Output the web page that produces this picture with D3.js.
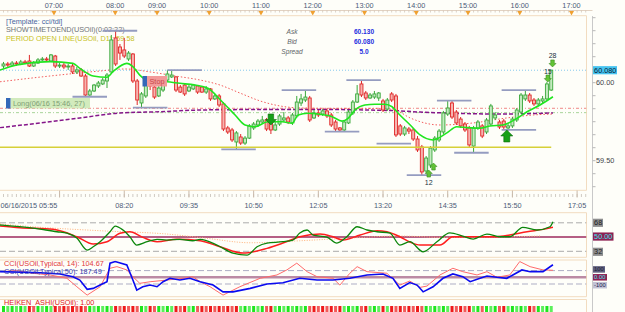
<!DOCTYPE html>
<html>
<head>
<meta charset="utf-8">
<script src="https://cdn.jsdelivr.net/npm/d3@7"></script>
<style>
  body { margin: 0; background: #fefef9; }
  svg { display: block; font-family: "Liberation Sans", Arial, sans-serif; }
</style>
</head>
<body>
<svg id="chart"></svg>
<script>
// USOil M5, 06/16/2015
const barOpen = [
  60.107,60.120,60.113,60.126,60.120,60.133,60.139,60.107,60.126,60.146,
  60.152,60.139,60.171,60.107,60.113,60.101,60.107,60.069,60.082,60.043,
  59.921,59.947,59.979,59.992,60.011,60.069,60.287,60.229,60.210,60.152,
  60.184,60.011,59.870,59.915,60.024,59.972,59.915,59.953,60.017,60.037,
  60.037,59.972,59.985,59.947,59.960,59.979,59.972,59.940,59.960,59.896,
  59.915,59.864,59.710,59.697,59.620,59.652,59.613,59.645,59.710,59.729,
  59.748,59.761,59.748,59.697,59.735,59.761,59.774,59.742,59.787,59.870,
  59.889,59.902,59.774,59.806,59.799,59.819,59.793,59.748,59.710,59.697,
  59.742,59.806,59.876,59.992,59.934,59.902,59.908,59.902,59.883,59.831,
  59.928,59.915,59.723,59.671,59.703,59.697,59.639,59.588,59.434,59.472,
  59.569,59.633,59.684,59.799,59.870,59.812,59.767,59.735,59.710,59.594,
  59.710,59.723,59.684,59.735,59.774,59.748,59.754,59.710,59.723,59.761,
  59.812,59.896,59.921,59.889,59.864,59.883,59.896,59.953];
const barClose = [
  60.120,60.113,60.126,60.120,60.133,60.126,60.107,60.126,60.146,60.152,
  60.146,60.178,60.107,60.113,60.101,60.107,60.069,60.082,60.043,59.921,
  59.947,59.985,59.998,60.017,60.049,60.274,60.120,60.190,60.171,60.190,
  60.011,59.889,59.928,60.030,59.979,59.908,59.966,60.017,60.056,60.049,
  59.953,59.940,59.928,59.972,59.985,59.940,59.940,59.960,59.896,59.915,
  59.857,59.703,59.684,59.633,59.678,59.613,59.645,59.723,59.735,59.754,
  59.761,59.703,59.697,59.729,59.787,59.774,59.748,59.793,59.876,59.896,
  59.908,59.761,59.806,59.793,59.819,59.787,59.729,59.703,59.697,59.748,
  59.812,59.876,59.928,59.921,59.902,59.921,59.928,59.934,59.825,59.889,
  59.889,59.665,59.671,59.710,59.690,59.639,59.569,59.428,59.517,59.581,
  59.645,59.690,59.806,59.838,59.780,59.742,59.723,59.697,59.601,59.710,
  59.748,59.658,59.761,59.851,59.793,59.716,59.716,59.723,59.767,59.825,
  59.921,59.921,59.883,59.864,59.889,59.896,59.992,60.080];
const barHigh = [
  60.133,60.133,60.139,60.139,60.146,60.146,60.178,60.139,60.158,60.165,
  60.165,60.184,60.178,60.126,60.126,60.120,60.120,60.101,60.094,60.056,
  59.960,59.992,60.011,60.030,60.062,60.306,60.338,60.248,60.287,60.203,
  60.190,60.024,59.940,60.043,60.037,59.985,59.979,60.030,60.082,60.075,
  60.043,59.985,59.998,59.985,59.992,59.985,59.979,59.979,59.966,59.928,
  59.928,59.876,59.723,59.710,59.690,59.671,59.658,59.735,59.748,59.767,
  59.787,59.774,59.761,59.748,59.799,59.812,59.787,59.806,59.915,59.928,
  59.953,59.915,59.825,59.825,59.831,59.831,59.806,59.761,59.716,59.761,
  59.825,59.889,59.985,60.017,59.947,59.934,59.947,59.940,59.896,59.902,
  59.940,59.928,59.735,59.723,59.716,59.710,59.658,59.601,59.530,59.594,
  59.658,59.703,59.819,59.883,59.889,59.825,59.780,59.748,59.723,59.723,
  59.761,59.735,59.774,59.864,59.812,59.761,59.767,59.735,59.780,59.838,
  59.934,59.953,59.934,59.902,59.902,59.915,60.004,60.082];
const barLow = [
  60.094,60.101,60.107,60.107,60.113,60.120,60.101,60.101,60.120,60.139,
  60.133,60.133,60.094,60.094,60.088,60.082,60.056,60.056,60.037,59.908,
  59.915,59.940,59.966,59.985,59.966,60.062,60.107,60.146,60.158,60.139,
  59.998,59.857,59.844,59.902,59.953,59.896,59.908,59.940,60.011,60.030,
  59.940,59.934,59.915,59.940,59.953,59.928,59.934,59.928,59.883,59.889,
  59.844,59.690,59.671,59.620,59.569,59.601,59.601,59.639,59.697,59.716,
  59.735,59.690,59.671,59.690,59.723,59.748,59.735,59.729,59.774,59.851,
  59.876,59.748,59.767,59.780,59.787,59.774,59.716,59.690,59.684,59.690,
  59.735,59.793,59.870,59.908,59.889,59.896,59.896,59.883,59.812,59.819,
  59.876,59.652,59.658,59.658,59.671,59.626,59.556,59.408,59.421,59.453,
  59.556,59.620,59.671,59.787,59.767,59.729,59.710,59.684,59.588,59.549,
  59.697,59.645,59.671,59.723,59.761,59.703,59.697,59.690,59.710,59.748,
  59.799,59.883,59.870,59.851,59.851,59.870,59.889,59.947];

// moving averages (bar index, price)
const maFastIdx = [-0.8,3.1,10.8,16.1,17.7,20.8,24.0,25.4,28.6,30.0,31.6,33.3,37.9,40.9,44.4,47.4,50.7,53.7,56.0,58.3,61.3,64.6,66.9,68.3,70.6,74.5,76.2,78.5,79.9,81.5,83.8,86.1,88.4,90.1,91.9,94.3,96.6,99.6,102.8,105.1,107.5,110.5,112.8,115.8,119.1,121.4,124.4,127.4];
const maFastVal = [60.081,60.113,60.135,60.124,60.092,60.043,60.035,60.071,60.124,60.103,60.049,60.017,60.006,59.996,59.985,59.964,59.878,59.793,59.729,59.718,59.750,59.750,59.740,59.793,59.804,59.793,59.782,59.754,59.772,59.825,59.857,59.862,59.862,59.846,59.793,59.729,59.665,59.633,59.678,59.718,59.712,59.708,59.722,59.729,59.772,59.814,59.857,59.910];
const maSlowIdx = [-0.8,10.8,22.4,28.2,34.0,39.8,45.6,50.2,54.8,59.5,64.1,68.7,78.0,87.3,90.8,94.3,101.2,108.9,116.7,122.8,127.4];
const maSlowVal = [60.006,60.043,60.075,60.088,60.069,60.043,60.017,59.985,59.934,59.883,59.851,59.838,59.835,59.835,59.825,59.774,59.729,59.742,59.774,59.793,59.799];
const maLongIdx = [-0.8,8.5,17.7,27.0,36.3,45.6,57.2,68.7,89.6,96.6,105.8,115.1,127.4];
const maLongVal = [59.712,59.742,59.774,59.806,59.814,59.825,59.828,59.829,59.822,59.812,59.803,59.799,59.806];

const bidPrice = 60.080, pivotPink = 59.836, pivotGreen = 59.808, dayOpen = 59.586;

// fractal level segments (start bar, price), 8 bars long
const levelStart = [23, 16, 30, 38, 64.5, 50.5, 74.5, 79.5, 86.5, 93.5, 100.5, 104.5, 115.5, 115.5];
const levelPrice = [60.333, 59.910, 59.840, 60.081, 59.953, 59.573, 59.686, 60.017, 59.609, 59.408, 59.885, 59.551, 59.953, 59.697];

// signal arrows
const sigIdx = [62, 116.7, 98.6, 99.7, 126.2, 127.3];
const sigPrice = [59.729, 59.697, 59.440, 59.485, 60.004, 60.101];
const sigDir = ["down", "up", "up", "up", "down", "down"];
const sigSize = [11, 12, 7, 7, 7, 7];
const sigLabel = ["", "", "12", "", "15", "28"];

// TDI
const tdiPriceIdx = [-0.8,2.2,6.8,12.4,14.7,17.0,19.4,20.8,22.4,24.7,25.9,27.7,29.3,30.9,33.3,35.6,37.9,40.9,43.9,45.6,49.5,53.2,56.5,58.8,61.1,64.8,67.1,68.7,70.4,71.8,75.0,77.3,79.6,82.0,84.3,86.6,89.6,91.9,94.2,97.3,100.5,103.5,106.5,108.9,112.1,115.1,117.4,120.4,123.7,126.7,127.4];
const tdiPriceVal = [65.2,63.9,61.4,56.7,55.1,48.7,33.5,37.7,44.1,56.7,63.9,58.9,50.4,39.9,44.1,47.1,46.2,47.1,45.3,47.1,39.9,29.7,27.2,37.7,42.4,44.1,46.2,55.1,58.9,52.5,50.0,42.4,50.4,63.0,58.9,56.7,55.1,39.9,44.1,31.4,44.1,55.4,51.3,47.5,53.8,50.4,50.4,62.3,58.9,63.0,69.4];
const tdiSignalIdx = [-0.8,3.8,11.5,17.0,20.8,24.0,27.0,29.3,32.3,35.6,40.2,45.6,50.2,55.5,61.1,64.8,68.7,73.4,76.4,78.7,82.7,86.6,88.9,91.9,94.2,96.6,101.2,104.2,109.8,114.4,117.4,121.4,125.1,127.4];
const tdiSignalVal = [63.9,61.8,59.7,50.4,41.1,44.1,54.7,56.7,49.6,44.1,47.1,45.3,37.7,29.7,35.7,42.4,50.4,53.8,50.4,46.2,52.5,58.0,56.7,50.4,43.7,39.9,39.9,50.4,50.4,50.4,52.5,56.7,59.7,62.3];
const tdiBaseIdx = [-0.8,6.8,22.4,37.9,46.7,57.2,68.7,80.3,91.9,101.9,117.4,124.4];
const tdiBaseVal = [66.5,63.0,58.0,53.8,48.7,42.8,45.3,48.7,51.3,49.6,50.4,51.3];

// CCI
const cciFastIdx = [-0.8,3.1,6.8,10.8,14.7,17.0,19.4,22.4,24.7,26.3,28.6,30.0,31.6,34.0,37.9,41.6,43.9,45.6,47.9,50.9,54.8,59.5,63.4,65.7,68.0,70.4,72.7,76.4,78.0,80.3,82.0,84.3,88.9,91.9,94.2,96.6,98.2,101.2,104.2,106.5,109.8,112.1,114.4,117.4,119.7,122.1,125.1,127.4];
const cciFastVal = [84,99,60,35,-15,-141,-266,-141,135,159,110,9,-90,-66,-41,-15,9,-66,-141,-266,-141,-15,35,110,211,84,9,-15,-116,60,159,84,60,-116,-56,-150,-131,35,135,84,35,84,0,35,235,159,110,104.67];
const cciSlowIdx = [-0.8,8.5,13.1,16.1,17.7,19.4,20.8,22.4,24.0,24.7,25.9,28.6,30.0,30.9,32.3,34.0,35.6,37.0,38.6,40.9,43.2,45.6,48.6,50.9,53.2,57.2,61.1,64.8,68.7,72.7,76.4,80.3,84.3,88.0,90.3,91.9,94.2,95.9,97.3,99.6,101.9,104.2,106.5,108.2,110.5,112.1,114.4,116.7,118.1,120.2,122.1,125.1,127.4];
const cciSlowVal = [84,69,50,9,-41,-180,-165,-116,-66,211,235,185,-41,-191,-141,-116,-141,-66,-15,-41,-15,-66,-116,-217,-217,-165,-101,-81,-15,-41,-41,-15,35,50,-15,-165,-78,-116,-217,-141,-15,50,9,-66,-15,20,0,-15,35,110,84,84,187.49];

// Heiken Ashi colour per bar
const haColor = ("gggggg" + "rr" + "gggg" + "rrrrrrrr" + "gggggg" + "rrrrrr" + "gg" + "rr" + "gggg" + "rrr" + "gg" +
  "rrrrrrrrrr" + "gggggg" + "rr" + "gggggggg" + "rrrrrrrr" + "gggg" + "rr" + "ggg" + "r" + "g" + "rrrrrrrr" +
  "gggggg" + "rrrrr" + "gg" + "r" + "ggg" + "rr" + "ggggg" + "rr" + "gggg").split("");

// axes
const hourLabels = ["07:00","08:00","09:00","10:00","11:00","12:00","13:00","14:00","15:00","16:00","17:00"];
const hourIdx = [11.7, 25.9, 35.6, 47.7, 59.7, 71.7, 83.7, 95.7, 107.7, 119.7, 131.7];
const timeLabels = ["06/16/2015 05:55","08:20","09:35","10:50","12:05","13:20","14:35","15:50","17:05"];
const timeIdx = [13, 28, 43, 58, 73, 88, 103, 118, 133];

// ---------------------------------------------------------------
const width = 625, height = 312;
const plotRight = 586.5, axisX = 592.5;
const tan = "#f2dcc0", axisText = "#4d5b78";

const svg = d3.select("#chart").attr("width", width).attr("height", height);

const x = d3.scaleLinear().domain([0, 133]).range([3.5, 577.1]);
const y = d3.scaleLinear().domain([59.5, 60.0]).range([160.7, 82.7]);
const yT = d3.scaleLinear().domain([32, 68]).range([251.3, 222.8]);
const yC = d3.scaleLinear().domain([-100, 100]).range([284, 270.6]);

const zip = (a, b) => a.map((v, i) => [v, b[i]]);

const defs = svg.append("defs");
defs.append("clipPath").attr("id", "clipMain").append("rect").attr("x", 0).attr("y", 16).attr("width", plotRight).attr("height", 174);
defs.append("clipPath").attr("id", "clipTdi").append("rect").attr("x", 0).attr("y", 213).attr("width", plotRight).attr("height", 44);
defs.append("clipPath").attr("id", "clipCci").append("rect").attr("x", 0).attr("y", 260.5).attr("width", plotRight).attr("height", 36);

// ---- top time ruler ----
const topAxis = svg.append("g");
topAxis.append("line").attr("x1", 0).attr("x2", axisX).attr("y1", 10.5).attr("y2", 10.5).attr("stroke", "#e2d2c2");
topAxis.selectAll(".tk").data(d3.range(-1, 136)).enter().append("line")
  .attr("x1", d => x(d)).attr("x2", d => x(d)).attr("y1", 10.5).attr("y2", 12.5)
  .attr("stroke", "#cdbfb0").attr("stroke-width", 0.7);
topAxis.selectAll(".hl").data(hourLabels).enter().append("text")
  .attr("x", (d, i) => x(hourIdx[i])).attr("y", 7.5).attr("text-anchor", "middle")
  .attr("font-size", 7.3).attr("fill", axisText).text(d => d);
topAxis.selectAll(".tri").data(hourIdx).enter().append("path")
  .attr("d", d => `M${x(d) - 2.5},11 L${x(d) + 2.5},11 L${x(d)},15.5 Z`)
  .attr("fill", "#f0a030");

// ---- panel frames ----
const frames = [[15.7, 190.3], [212.7, 257.3], [260, 296.7], [299.5, 320]];
frames.forEach(f => {
  svg.append("line").attr("x1", 0).attr("x2", plotRight).attr("y1", f[0]).attr("y2", f[0]).attr("stroke", tan);
  svg.append("line").attr("x1", 0).attr("x2", plotRight).attr("y1", f[1]).attr("y2", f[1]).attr("stroke", tan);
  svg.append("line").attr("x1", plotRight).attr("x2", plotRight).attr("y1", f[0]).attr("y2", f[1]).attr("stroke", tan);
});
svg.append("line").attr("x1", axisX).attr("x2", axisX).attr("y1", 16).attr("y2", height).attr("stroke", "#c9c9c9");

// ---- main panel ----
// header texts
const hdr = svg.append("g").attr("font-size", 7.3);
hdr.append("text").attr("x", 6).attr("y", 23.5).attr("fill", "#4866a0").text("[Template: cci/tdi]");
hdr.append("text").attr("x", 6).attr("y", 32).attr("fill", "#707478").text("SHOWTIMETOEND(USOil)(0:02:22)");
hdr.append("text").attr("x", 6).attr("y", 40.5).attr("fill", "#c8c21e").text("PERIOD OPEN LINE(USOil, D1): 59.58");

const quote = svg.append("g").attr("font-size", 6.6);
[["Ask", "60.130", 33.5], ["Bid", "60.080", 43.5], ["Spread", "5.0", 53.5]].forEach(r => {
  quote.append("text").attr("x", 292).attr("y", r[2]).attr("text-anchor", "middle")
    .attr("font-style", "italic").attr("fill", "#606468").text(r[0]);
  quote.append("text").attr("x", 364).attr("y", r[2]).attr("text-anchor", "middle")
    .attr("font-weight", "bold").attr("fill", "#1f2ee0").text(r[1]);
});

const main = svg.append("g").attr("clip-path", "url(#clipMain)");

// horizontal reference lines
main.append("line").attr("x1", 0).attr("x2", plotRight).attr("y1", y(bidPrice)).attr("y2", y(bidPrice))
  .attr("stroke", "#86c8ec").attr("stroke-dasharray", "1,2");
main.append("line").attr("x1", 0).attr("x2", plotRight).attr("y1", y(pivotPink)).attr("y2", y(pivotPink))
  .attr("stroke", "#f08888").attr("stroke-dasharray", "3,2,1,2");
main.append("line").attr("x1", 0).attr("x2", plotRight).attr("y1", y(pivotGreen)).attr("y2", y(pivotGreen))
  .attr("stroke", "#a8d49a").attr("stroke-dasharray", "3,2,1,2");

const line = d3.line().x(d => x(d[0])).y(d => y(d[1])).curve(d3.curveMonotoneX);
main.append("path").datum(zip(maLongIdx, maLongVal)).attr("d", line)
  .attr("fill", "none").attr("stroke", "#85168a").attr("stroke-width", 1.5).attr("stroke-dasharray", "4,2");
main.append("path").datum(zip(maSlowIdx, maSlowVal)).attr("d", line)
  .attr("fill", "none").attr("stroke", "#f25c5c").attr("stroke-width", 1).attr("stroke-dasharray", "1.5,2");

// candles
const bars = barOpen.map((o, i) => ({ i, o, c: barClose[i], h: barHigh[i], l: barLow[i] }));
const candle = main.selectAll(".candle").data(bars).enter().append("g").attr("class", "candle");
candle.append("line")
  .attr("x1", d => x(d.i)).attr("x2", d => x(d.i))
  .attr("y1", d => y(d.h)).attr("y2", d => y(d.l))
  .attr("stroke", d => d.c >= d.o ? "#3aa83a" : "#e02828");
candle.append("rect")
  .attr("x", d => x(d.i) - 1.5).attr("width", 3)
  .attr("y", d => y(Math.max(d.o, d.c)))
  .attr("height", d => Math.max(1, Math.abs(y(d.o) - y(d.c))))
  .attr("fill", d => d.c >= d.o ? "#c4eac0" : "#f6b4b0")
  .attr("stroke", d => d.c >= d.o ? "#3aa83a" : "#e02828").attr("stroke-width", 0.9);

// day open line
main.append("line").attr("x1", 0).attr("x2", x(barOpen.length - 1)).attr("y1", y(dayOpen)).attr("y2", y(dayOpen))
  .attr("stroke", "#d6d038").attr("stroke-width", 1.4);

// fractal levels
main.selectAll(".lvl").data(levelStart).enter().append("line")
  .attr("x1", d => x(d)).attr("x2", d => x(d + 8))
  .attr("y1", (d, i) => y(levelPrice[i])).attr("y2", (d, i) => y(levelPrice[i]))
  .attr("stroke", "#959cc0").attr("stroke-width", 1.8);

// fast MA
main.append("path").datum(zip(maFastIdx, maFastVal)).attr("d", line)
  .attr("fill", "none").attr("stroke", "#1fe61f").attr("stroke-width", 1.6);

// Long / Stop tags
const tag = svg.append("g").attr("font-size", 7.3);
tag.append("rect").attr("x", 10.5).attr("y", 98).attr("width", 79.5).attr("height", 10.5).attr("fill", "#cde9b6").attr("opacity", 0.9);
tag.append("rect").attr("x", 6).attr("y", 98).attr("width", 4.5).attr("height", 10.5).attr("fill", "#3468b8");
tag.append("text").attr("x", 13).attr("y", 106.2).attr("fill", "#7f9f74").text("Long(06/16 15:46, 27)");
tag.append("rect").attr("x", 147).attr("y", 76).attr("width", 20).attr("height", 10.5).attr("fill", "#f29a9a");
tag.append("rect").attr("x", 142.5).attr("y", 76).attr("width", 4.5).attr("height", 10.5).attr("fill", "#3468b8");
tag.append("text").attr("x", 149.5).attr("y", 84).attr("fill", "#c84848").text("Stop");

// arrows
function arrowPath(dir, w, h) {
  const s = dir === "down" ? -1 : 1;
  return d3.line()([[0, 0], [-w / 2, s * h * 0.5], [-w / 4, s * h * 0.5], [-w / 4, s * h],
    [w / 4, s * h], [w / 4, s * h * 0.5], [w / 2, s * h * 0.5]]) + "Z";
}
const sig = svg.selectAll(".sig").data(sigIdx).enter().append("g")
  .attr("transform", (d, i) => `translate(${x(d)},${y(sigPrice[i])})`);
sig.append("path")
  .attr("d", (d, i) => arrowPath(sigDir[i], sigSize[i], sigSize[i]))
  .attr("fill", (d, i) => sigSize[i] > 8 ? "#17a017" : "#62c436")
  .attr("stroke", (d, i) => sigSize[i] > 8 ? "#0c6a0c" : "#3c8c22").attr("stroke-width", 0.6);
sig.append("text")
  .attr("text-anchor", "middle").attr("font-size", 7).attr("fill", "#203040")
  .attr("y", (d, i) => sigDir[i] === "down" ? -sigSize[i] - 1.5 : sigSize[i] + 7.5)
  .text((d, i) => sigLabel[i]);

// bottom time ruler
const bot = svg.append("g");
bot.selectAll(".mt").data(d3.range(-1, 136)).enter().append("line")
  .attr("x1", d => x(d)).attr("x2", d => x(d)).attr("y1", 194).attr("y2", 197)
  .attr("stroke", "#bcb4ac").attr("stroke-width", 0.7);
bot.selectAll(".Mt").data(timeIdx).enter().append("line")
  .attr("x1", d => x(d)).attr("x2", d => x(d)).attr("y1", 190.5).attr("y2", 197.5)
  .attr("stroke", "#c9b9a9");
bot.selectAll(".tl").data(timeLabels).enter().append("text")
  .attr("x", (d, i) => i === 0 ? 0.5 : x(timeIdx[i]))
  .attr("y", 208).attr("text-anchor", (d, i) => i === 0 ? "start" : "middle")
  .attr("font-size", 7.3).attr("fill", axisText).text(d => d);

// right price axis
const yTicks = d3.range(-8, 6).map(k => 60 + k / 12);
svg.selectAll(".pt").data(yTicks).enter().append("line")
  .attr("x1", axisX).attr("x2", axisX + 3).attr("y1", d => y(d)).attr("y2", d => y(d))
  .attr("stroke", "#b8b8b8");
svg.selectAll(".pl").data([60.0, 59.5]).enter().append("text")
  .attr("x", 596).attr("y", d => y(d) + 2.6).attr("font-size", 7.3).attr("fill", "#404448")
  .text(d => d.toFixed(2));

function sideTag(yPos, label, bg, fg, w, fs = 7.3) {
  const h = fs * 1.12;
  svg.append("rect").attr("x", axisX + 0.5).attr("y", yPos - h / 2).attr("width", w).attr("height", h).attr("fill", bg);
  svg.append("text").attr("x", axisX + 1.6).attr("y", yPos + fs * 0.36).attr("font-size", fs).attr("fill", fg).text(label);
}
sideTag(y(bidPrice), "60.080", "#46c4f0", "#0a1a30", 24);

// ---- TDI panel ----
const tdi = svg.append("g").attr("clip-path", "url(#clipTdi)");
[68, 32].forEach(v => tdi.append("line").attr("x1", 0).attr("x2", plotRight).attr("y1", yT(v)).attr("y2", yT(v))
  .attr("stroke", "#ababab").attr("stroke-dasharray", "6,3"));
tdi.append("line").attr("x1", 0).attr("x2", plotRight).attr("y1", yT(50)).attr("y2", yT(50))
  .attr("stroke", "#9c2a5c").attr("stroke-width", 1.4);
const tLine = d3.line().x(d => x(d[0])).y(d => yT(d[1])).curve(d3.curveMonotoneX);
tdi.append("path").datum(zip(tdiBaseIdx, tdiBaseVal)).attr("d", tLine)
  .attr("fill", "none").attr("stroke", "#ffb27a").attr("stroke-dasharray", "1,1.5");
tdi.append("path").datum(zip(tdiSignalIdx, tdiSignalVal)).attr("d", tLine)
  .attr("fill", "none").attr("stroke", "#ff1e1e").attr("stroke-width", 1.5);
tdi.append("path").datum(zip(tdiPriceIdx, tdiPriceVal)).attr("d", tLine)
  .attr("fill", "none").attr("stroke", "#0b860b").attr("stroke-width", 1.3);

sideTag(yT(68), "68", "#8e8e8e", "#1c1c1c", 10);
sideTag(yT(50) - 0.5, "50.00", "#8e2052", "#3fe6ef", 20.5);
sideTag(yT(32) + 0.5, "32", "#8e8e8e", "#1c1c1c", 10);

// ---- CCI panel ----
const cci = svg.append("g").attr("clip-path", "url(#clipCci)");
[100, -100].forEach(v => cci.append("line").attr("x1", 0).attr("x2", plotRight).attr("y1", yC(v)).attr("y2", yC(v))
  .attr("stroke", "#adadc4").attr("stroke-dasharray", "6,3"));
cci.append("line").attr("x1", 0).attr("x2", plotRight).attr("y1", yC(0)).attr("y2", yC(0))
  .attr("stroke", "#bb8aa4").attr("stroke-width", 2.6);
const cLine = d3.line().x(d => x(d[0])).y(d => yC(d[1]));
cci.append("path").datum(zip(cciFastIdx, cciFastVal)).attr("d", cLine)
  .attr("fill", "none").attr("stroke", "#ff6a6a").attr("stroke-width", 1);
cci.append("path").datum(zip(cciSlowIdx, cciSlowVal)).attr("d", cLine)
  .attr("fill", "none").attr("stroke", "#0a0af0").attr("stroke-width", 1.6);
svg.append("text").attr("x", 4).attr("y", 265.5).attr("font-size", 7.3).attr("fill", "#e23a3a")
  .text("CCI(USOil,Typical, 14): 104.67");
svg.append("text").attr("x", 4).attr("y", 273.8).attr("font-size", 7.3).attr("fill", "#3a3ab0")
  .text("CCI(USOil,Typical,50): 187.49");

sideTag(yC(100) - 1.2, "100", "#5e5e7e", "#202030", 12, 5.8);
sideTag(yC(0), "0.00", "#8e2052", "#3fe6ef", 14, 5.8);
sideTag(yC(-100) + 1.2, "-100", "#c2c2d4", "#1c1c50", 14, 5.8);

// ---- Heiken Ashi strip ----
svg.append("text").attr("x", 4).attr("y", 305).attr("font-size", 7.3).attr("fill", "#e01818")
  .text("HEIKEN_ASHI(USOil): 1.00");
svg.selectAll(".ha").data(haColor).enter().append("rect")
  .attr("x", (d, i) => x(i) - 1.5).attr("y", 306).attr("width", 3).attr("height", 6)
  .attr("fill", (d, i) => d === "g" ? (i % 2 ? "#5cf05c" : "#1ee61e") : (i % 2 ? "#f25a5a" : "#ee1a1a"));
</script>
</body>
</html>
